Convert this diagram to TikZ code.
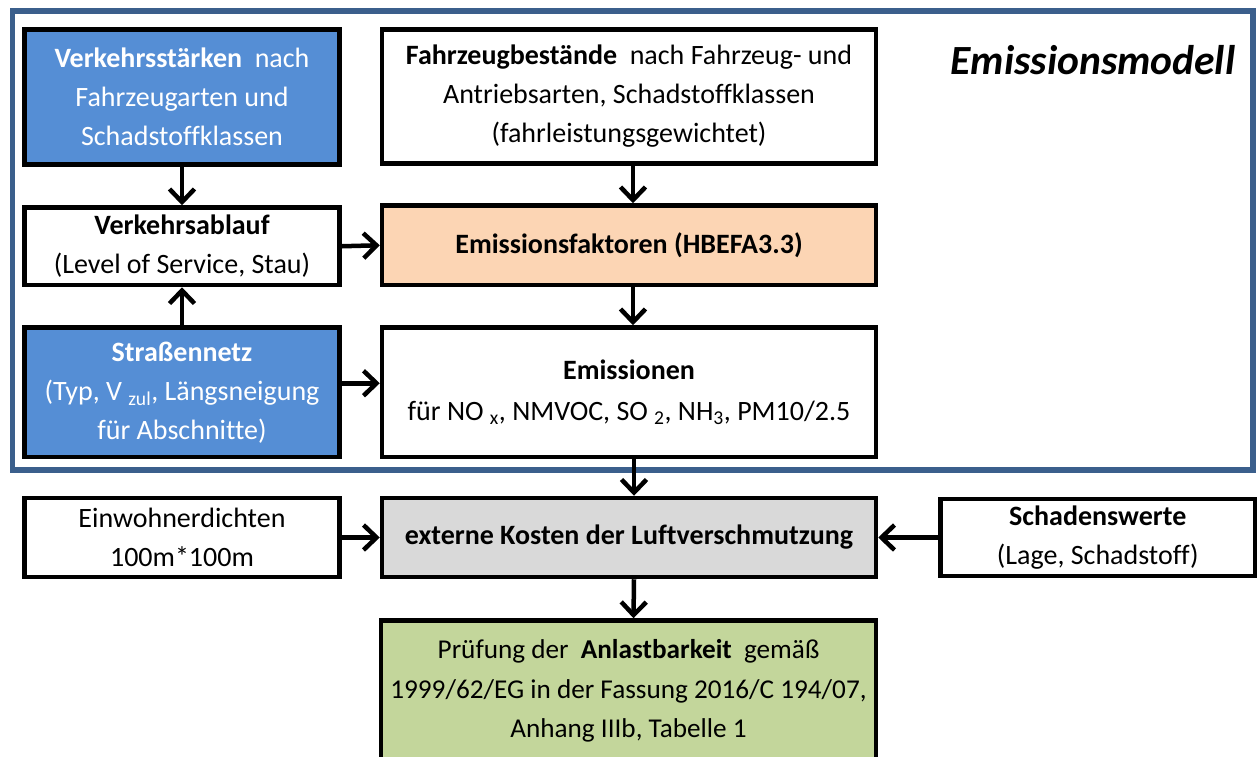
\documentclass[tikz,border=0pt]{standalone}
\usepackage{fontspec}
\setmainfont{Carlito}[Ligatures=NoCommon]
\usetikzlibrary{arrows.meta}
\definecolor{bfill}{RGB}{85,142,213}
\definecolor{frame}{RGB}{59,95,140}
\definecolor{ofill}{RGB}{252,213,180}
\definecolor{gfill}{RGB}{217,217,217}
\definecolor{grfill}{RGB}{195,214,155}
\newcommand{\gap}{\hspace{0.45em}}
\tikzset{
  box/.style={draw=black, line width=4.5pt, rectangle, align=center, inner sep=0pt,
    font=\fontsize{28}{39}\selectfont},
  bluebox/.style={box, fill=bfill, text=white},
  conn/.style={line width=4.5pt, -{Straight Barb[length=13pt,width=25pt]}},
}
\begin{document}
\begin{tikzpicture}[x=1pt,y=-1pt]
\useasboundingbox (0,0) rectangle (1259,756);
\clip (0,0) rectangle (1259,756);
\fill[white] (0,0) rectangle (1259,756);
% outer frame
\draw[frame, line width=5.5pt] (12.5,11) rectangle (1253,470);
\node[font=\fontsize{41.5}{44}\selectfont\bfseries\itshape] (title) at (1093,60) {Emissionsmodell};
% boxes
\node[bluebox, minimum width=315pt, minimum height=135pt] (vs) at (182,97)
  {\textbf{Verkehrsstärken}\gap nach\\Fahrzeugarten und\\Schadstoffklassen};
\node[box, fill=white, minimum width=494pt, minimum height=134pt] (fz) at (629,96.5)
  {\textbf{Fahrzeugbestände}\gap nach Fahrzeug- und\\Antriebsarten, Schadstoffklassen\\(fahrleistungsgewichtet)};
\node[box, fill=white, minimum width=315pt, minimum height=77.5pt] (va) at (182,246.25)
  {\textbf{Verkehrsablauf}\\(Level of Service, Stau)};
\node[box, fill=ofill, minimum width=494pt, minimum height=79.5pt] (ef) at (629,245.25)
  {\textbf{Emissionsfaktoren (HBEFA3.3)}};
\node[bluebox, minimum width=315pt, minimum height=129.5pt] (sn) at (182,392.25)
  {\textbf{Straßennetz}\\(Typ, V \textsubscript{zul}, Längsneigung\\für Abschnitte)};
\node[box, fill=white, minimum width=494pt, minimum height=129.5pt] (em) at (629,392.25)
  {\textbf{Emissionen}\\[2pt]für NO \textsubscript{x}, NMVOC, SO \textsubscript{2}, NH\textsubscript{3}, PM10/2.5};
\node[box, fill=white, minimum width=315pt, minimum height=79pt] (ew) at (182,537.5)
  {Einwohnerdichten\\100m*100m};
\node[box, fill=gfill, minimum width=494pt, minimum height=79pt] (ek) at (629,537.5)
  {\textbf{externe Kosten der Luftverschmutzung}};
\node[box, fill=white, minimum width=314.5pt, minimum height=77pt] (sw) at (1097.75,537.5)
  {\textbf{Schadenswerte}\\(Lage, Schadstoff)};
\node[box, fill=grfill, minimum width=495pt, minimum height=141pt,
  font=\fontsize{27.2}{39.5}\selectfont] (pr) at (628.5,691)
  {Prüfung der\gap\textbf{Anlastbarkeit}\gap gemäß\\1999/62/EG in der Fassung 2016/C 194/07,\\Anhang IIIb, Tabelle 1};
% connectors
\draw[conn] (vs.south) -- (va.north);
\draw[conn] (sn.north) -- (va.south);
\draw[conn] (va.east) -- (ef.west);
\draw[conn] ([yshift=9pt]sn.east) -- ([yshift=9pt]em.west);
\draw[conn] ([xshift=4pt]fz.south) -- ([xshift=4pt]ef.north);
\draw[conn] ([xshift=4pt]ef.south) -- ([xshift=4pt]em.north);
\draw[conn] ([xshift=5pt]em.south) -- ([xshift=5pt]ek.north);
\draw[conn] ([xshift=5pt]ek.south) -- ([xshift=5pt]pr.north);
\draw[conn] (ew.east) -- (ek.west);
\draw[conn] (sw.west) -- (ek.east);
\end{tikzpicture}
\end{document}
